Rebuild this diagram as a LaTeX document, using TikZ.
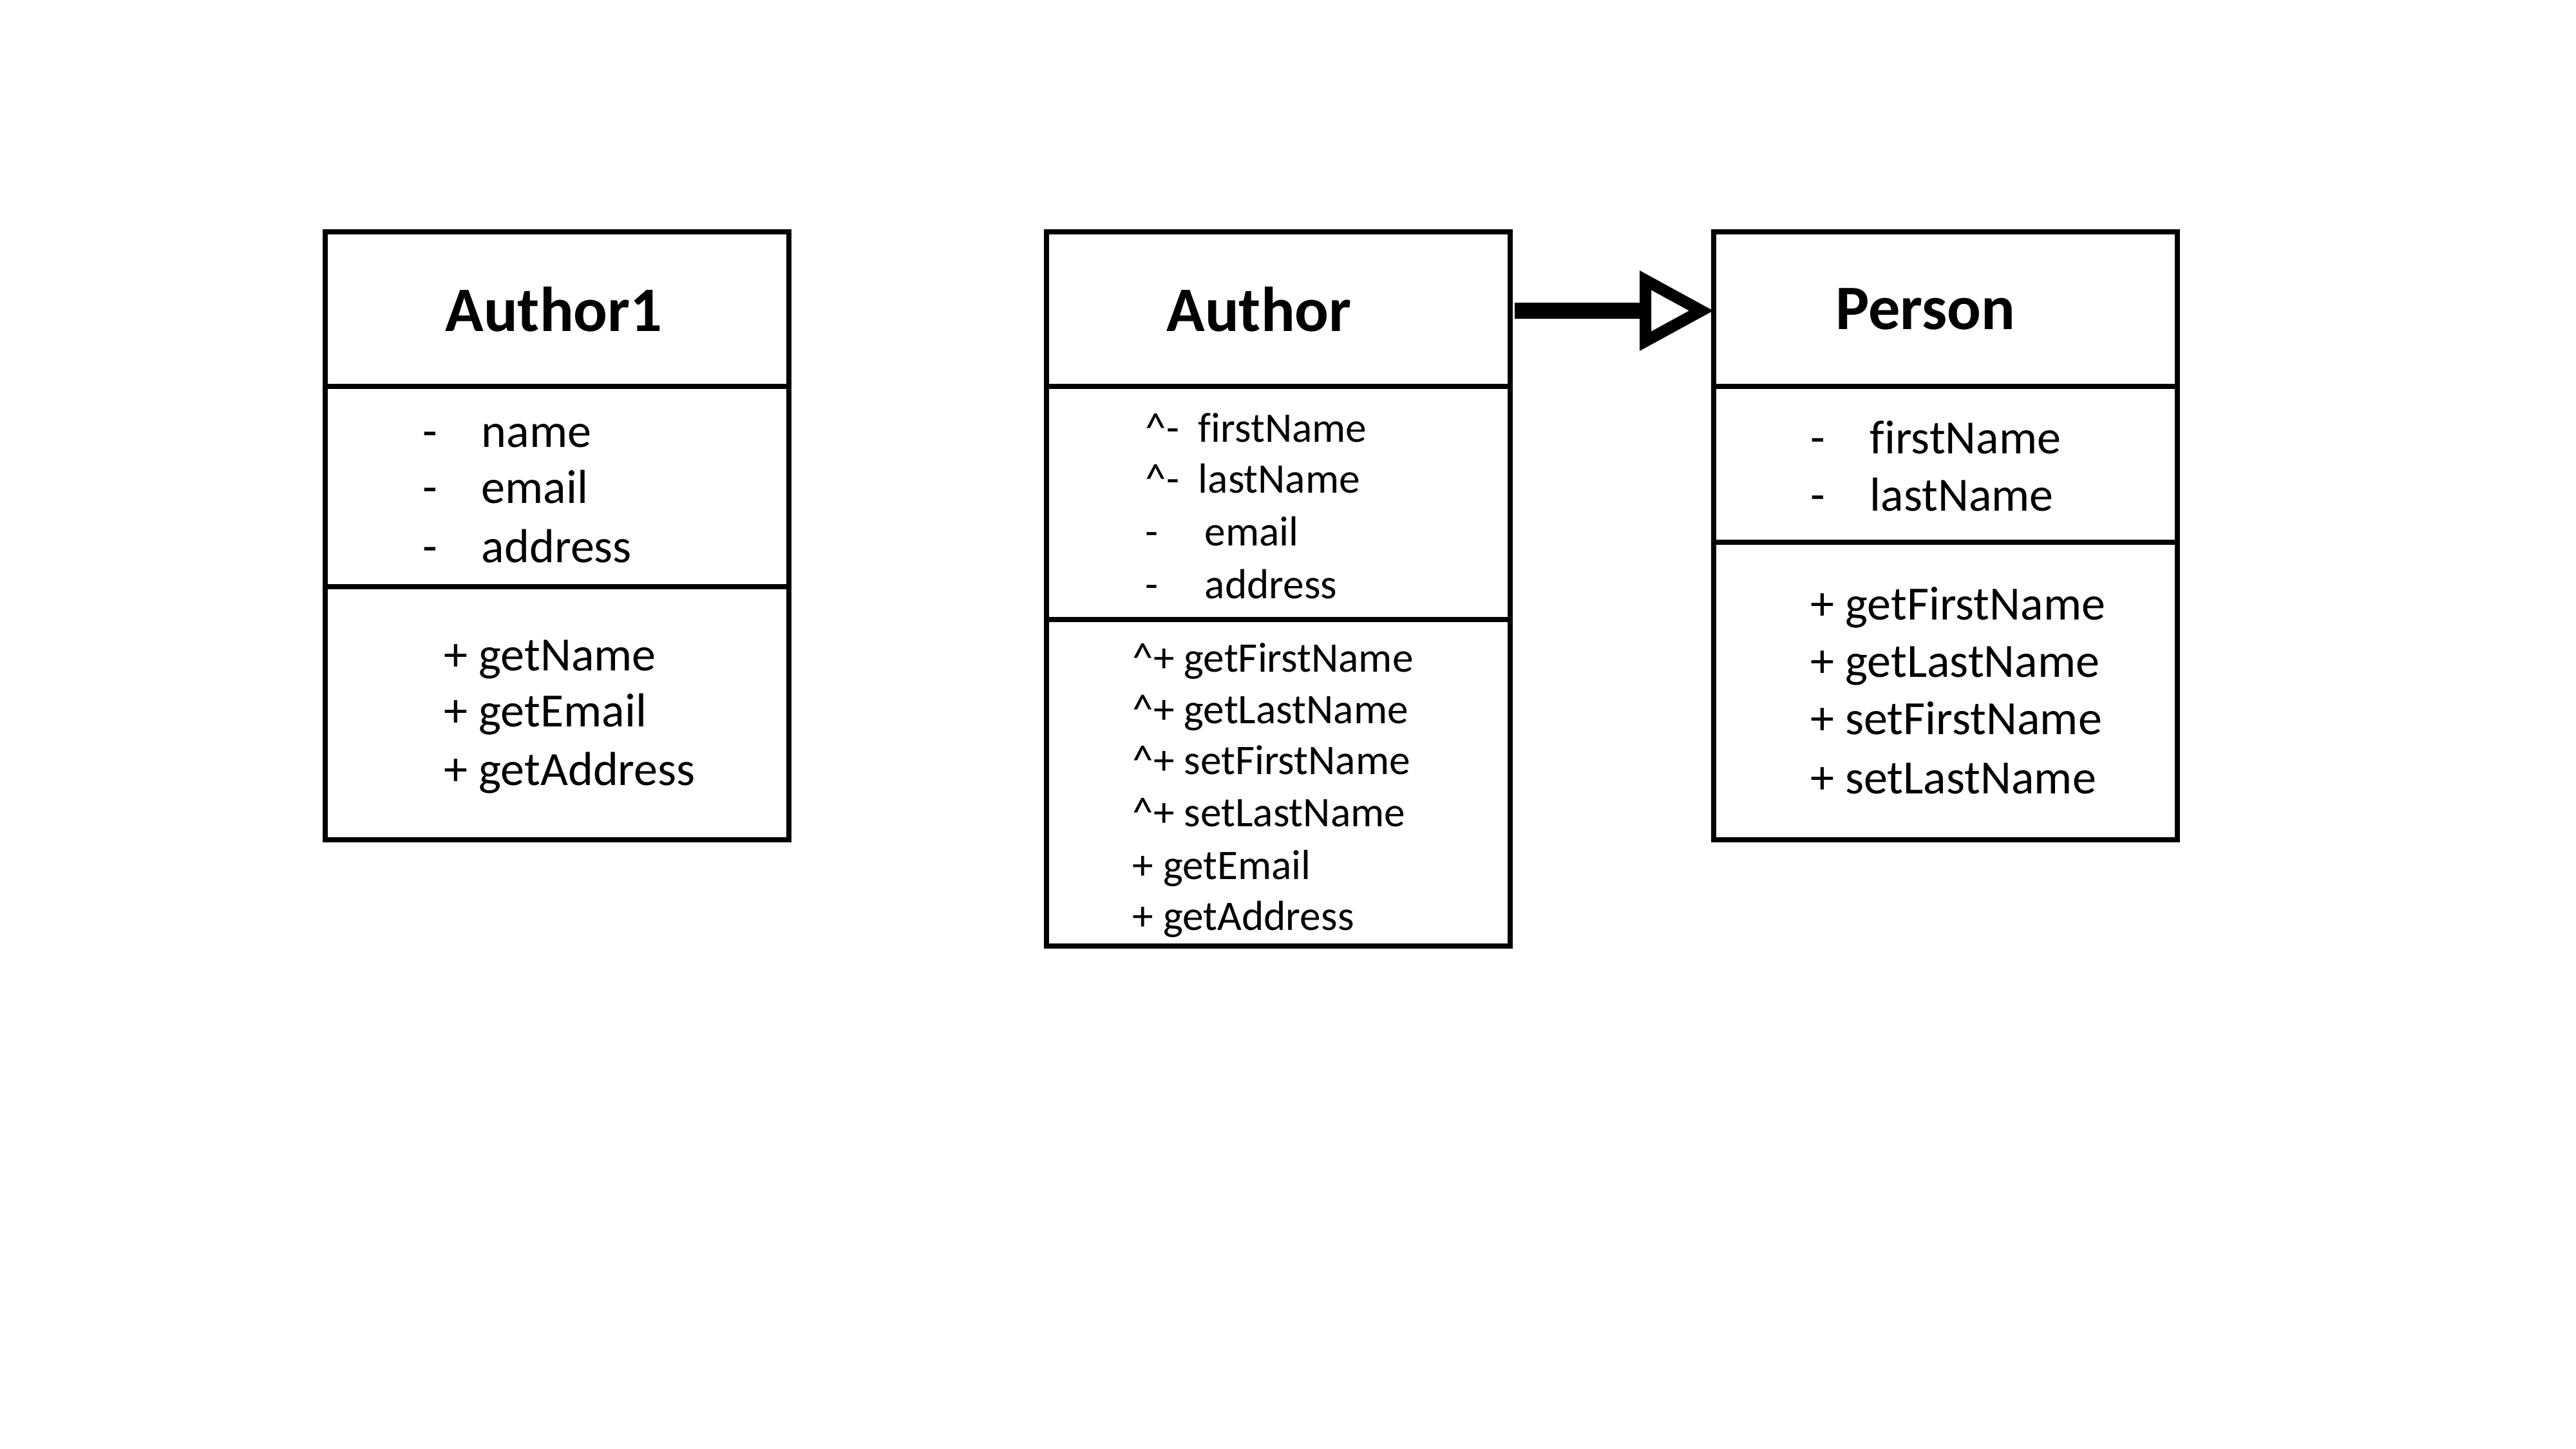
\documentclass[tikz,border=0pt]{standalone}
\usepackage{fontspec}
\setmainfont{Carlito}[Ligatures=NoCommon]
\usetikzlibrary{arrows.meta}
\tikzset{
  classbox/.style={draw, line width=0.08cm, minimum width=7.2cm, inner sep=0pt, outer sep=0pt, anchor=north west},
  divider/.style={line width=0.08cm},
  titletext/.style={font=\fontsize{28}{32}\selectfont\bfseries, inner sep=0pt},
  bigtext/.style={font=\fontsize{21.1}{25}\selectfont, inner sep=0pt, anchor=mid west, yshift=-0.15cm},
  smalltext/.style={font=\fontsize{18.6}{22}\selectfont, inner sep=0pt, anchor=mid west, yshift=-0.15cm},
  inherit/.style={line width=0.25cm, -{Triangle[open, length=1.15cm, width=1.2cm, line width=0.18cm]}}
}
\begin{document}
\begin{tikzpicture}
\useasboundingbox (0,0) rectangle (40,-22.5);
% Author1
\node[classbox, minimum height=9.44cm] (a1) at (5.05,-3.6) {};
\draw[divider] (a1.west |- 0,-6.0) -- (a1.east |- 0,-6.0);
\draw[divider] (a1.west |- 0,-9.11) -- (a1.east |- 0,-9.11);
\node[titletext] (a1t) at (8.6,-4.8) {Author1};
\node[bigtext] (a1d1) at (6.56,-6.71) {-};
\node[bigtext] (a1a1) at (7.47,-6.71) {name};
\node[bigtext] (a1d2) at (6.56,-7.58) {-};
\node[bigtext] (a1a2) at (7.47,-7.58) {email};
\node[bigtext] (a1d3) at (6.56,-8.50) {-};
\node[bigtext] (a1a3) at (7.47,-8.50) {address};
\node[bigtext] (a1m1) at (6.89,-10.18) {+ getName};
\node[bigtext] (a1m2) at (6.89,-11.05) {+ getEmail};
\node[bigtext] (a1m3) at (6.89,-11.96) {+ getAddress};
% Author
\node[classbox, minimum height=11.09cm] (au) at (16.25,-3.6) {};
\draw[divider] (au.west |- 0,-6.0) -- (au.east |- 0,-6.0);
\draw[divider] (au.west |- 0,-9.62) -- (au.east |- 0,-9.62);
\node[titletext] (aut) at (19.55,-4.8) {Author};
\node[smalltext] (aud1) at (17.78,-6.63) {\textasciicircum-};
\node[smalltext] (aua1) at (18.60,-6.63) {firstName};
\node[smalltext] (aud2) at (17.78,-7.42) {\textasciicircum-};
\node[smalltext] (aua2) at (18.60,-7.42) {lastName};
\node[smalltext] (aud3) at (17.78,-8.24) {-};
\node[smalltext] (aua3) at (18.70,-8.24) {email};
\node[smalltext] (aud4) at (17.78,-9.06) {-};
\node[smalltext] (aua4) at (18.70,-9.06) {address};
\node[smalltext] (aum1) at (17.58,-10.20) {\textasciicircum+ getFirstName};
\node[smalltext] (aum2) at (17.58,-11.00) {\textasciicircum+ getLastName};
\node[smalltext] (aum3) at (17.58,-11.79) {\textasciicircum+ setFirstName};
\node[smalltext] (aum4) at (17.58,-12.60) {\textasciicircum+ setLastName};
\node[smalltext] (aum5) at (17.58,-13.42) {+ getEmail};
\node[smalltext] (aum6) at (17.58,-14.21) {+ getAddress};
% Person
\node[classbox, minimum height=9.44cm] (pe) at (26.61,-3.6) {};
\draw[divider] (pe.west |- 0,-6.0) -- (pe.east |- 0,-6.0);
\draw[divider] (pe.west |- 0,-8.42) -- (pe.east |- 0,-8.42);
\node[titletext] (pet) at (29.9,-4.8) {Person};
\node[bigtext] (ped1) at (28.11,-6.81) {-};
\node[bigtext] (pea1) at (29.03,-6.81) {firstName};
\node[bigtext] (ped2) at (28.11,-7.70) {-};
\node[bigtext] (pea2) at (29.03,-7.70) {lastName};
\node[bigtext] (pem1) at (28.11,-9.39) {+ getFirstName};
\node[bigtext] (pem2) at (28.11,-10.28) {+ getLastName};
\node[bigtext] (pem3) at (28.11,-11.17) {+ setFirstName};
\node[bigtext] (pem4) at (28.11,-12.09) {+ setLastName};
% Inheritance arrow
\draw[inherit, shorten <=0.07cm] (au.east |- 0,-4.825) -- (pe.west |- 0,-4.825);
\end{tikzpicture}
\end{document}
